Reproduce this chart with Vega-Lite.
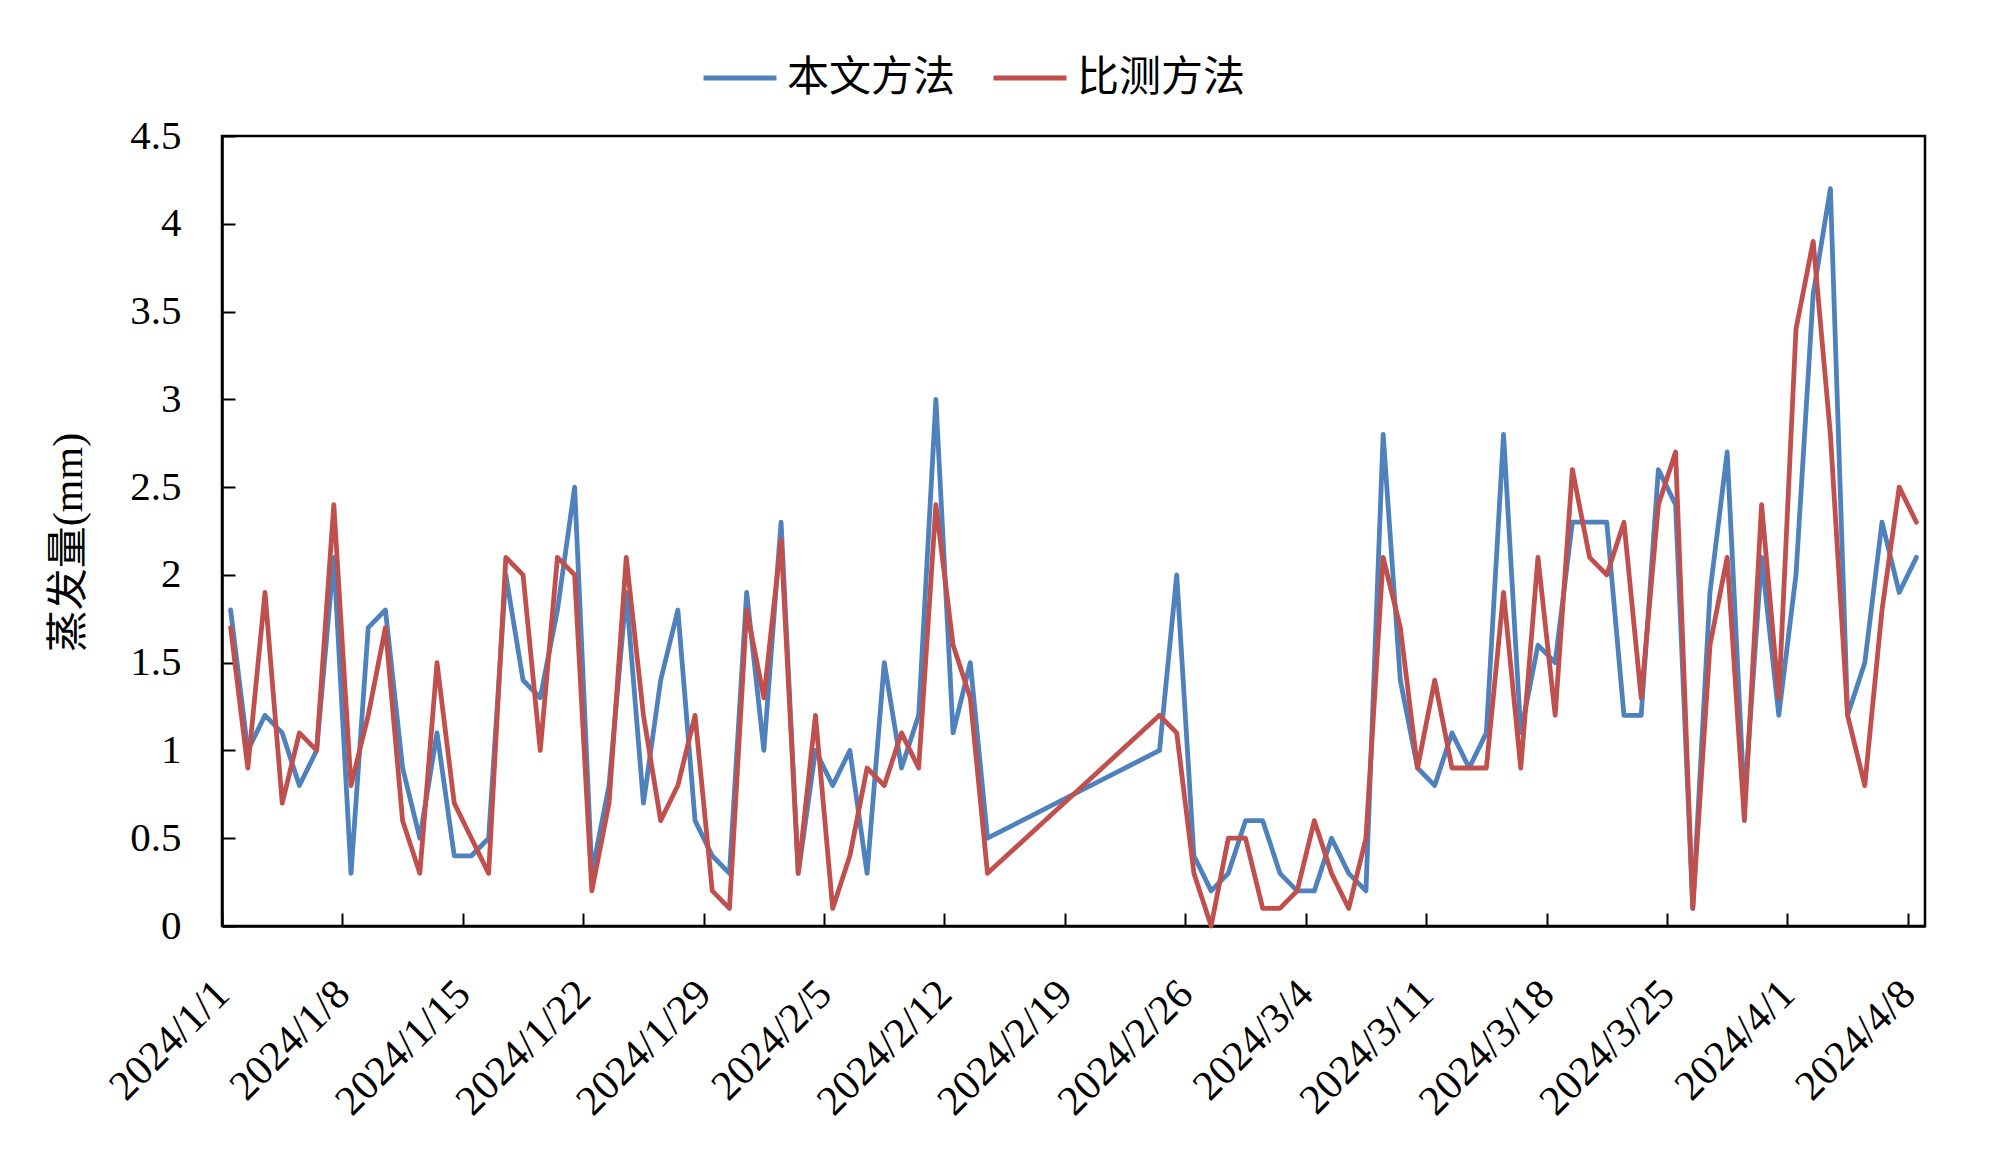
{
  "$schema": "https://vega.github.io/schema/vega-lite/v6.json",
  "width": 1703,
  "height": 790,
  "autosize": {"type": "none"},
  "padding": {"left": 222, "top": 136, "right": 75, "bottom": 243},
  "background": "white",
  "config": {
    "view": {"stroke": "black", "strokeWidth": 2.5},
    "font": "Liberation Serif, Noto Sans CJK SC"
  },
  "data": {
    "values": [
      {"date": "2024/1/1", "本文方法": 1.8, "比测方法": 1.7},
      {"date": "2024/1/2", "本文方法": 1.0, "比测方法": 0.9},
      {"date": "2024/1/3", "本文方法": 1.2, "比测方法": 1.9},
      {"date": "2024/1/4", "本文方法": 1.1, "比测方法": 0.7},
      {"date": "2024/1/5", "本文方法": 0.8, "比测方法": 1.1},
      {"date": "2024/1/6", "本文方法": 1.0, "比测方法": 1.0},
      {"date": "2024/1/7", "本文方法": 2.1, "比测方法": 2.4},
      {"date": "2024/1/8", "本文方法": 0.3, "比测方法": 0.8},
      {"date": "2024/1/9", "本文方法": 1.7, "比测方法": 1.2},
      {"date": "2024/1/10", "本文方法": 1.8, "比测方法": 1.7},
      {"date": "2024/1/11", "本文方法": 0.9, "比测方法": 0.6},
      {"date": "2024/1/12", "本文方法": 0.5, "比测方法": 0.3},
      {"date": "2024/1/13", "本文方法": 1.1, "比测方法": 1.5},
      {"date": "2024/1/14", "本文方法": 0.4, "比测方法": 0.7},
      {"date": "2024/1/15", "本文方法": 0.4, "比测方法": 0.5},
      {"date": "2024/1/16", "本文方法": 0.5, "比测方法": 0.3},
      {"date": "2024/1/17", "本文方法": 2.0, "比测方法": 2.1},
      {"date": "2024/1/18", "本文方法": 1.4, "比测方法": 2.0},
      {"date": "2024/1/19", "本文方法": 1.3, "比测方法": 1.0},
      {"date": "2024/1/20", "本文方法": 1.8, "比测方法": 2.1},
      {"date": "2024/1/21", "本文方法": 2.5, "比测方法": 2.0},
      {"date": "2024/1/22", "本文方法": 0.3, "比测方法": 0.2},
      {"date": "2024/1/23", "本文方法": 0.8, "比测方法": 0.7},
      {"date": "2024/1/24", "本文方法": 1.9, "比测方法": 2.1},
      {"date": "2024/1/25", "本文方法": 0.7, "比测方法": 1.2},
      {"date": "2024/1/26", "本文方法": 1.4, "比测方法": 0.6},
      {"date": "2024/1/27", "本文方法": 1.8, "比测方法": 0.8},
      {"date": "2024/1/28", "本文方法": 0.6, "比测方法": 1.2},
      {"date": "2024/1/29", "本文方法": 0.4, "比测方法": 0.2},
      {"date": "2024/1/30", "本文方法": 0.3, "比测方法": 0.1},
      {"date": "2024/1/31", "本文方法": 1.9, "比测方法": 1.8},
      {"date": "2024/2/1", "本文方法": 1.0, "比测方法": 1.3},
      {"date": "2024/2/2", "本文方法": 2.3, "比测方法": 2.2},
      {"date": "2024/2/3", "本文方法": 0.3, "比测方法": 0.3},
      {"date": "2024/2/4", "本文方法": 1.0, "比测方法": 1.2},
      {"date": "2024/2/5", "本文方法": 0.8, "比测方法": 0.1},
      {"date": "2024/2/6", "本文方法": 1.0, "比测方法": 0.4},
      {"date": "2024/2/7", "本文方法": 0.3, "比测方法": 0.9},
      {"date": "2024/2/8", "本文方法": 1.5, "比测方法": 0.8},
      {"date": "2024/2/9", "本文方法": 0.9, "比测方法": 1.1},
      {"date": "2024/2/10", "本文方法": 1.2, "比测方法": 0.9},
      {"date": "2024/2/11", "本文方法": 3.0, "比测方法": 2.4},
      {"date": "2024/2/12", "本文方法": 1.1, "比测方法": 1.6},
      {"date": "2024/2/13", "本文方法": 1.5, "比测方法": 1.3},
      {"date": "2024/2/14", "本文方法": 0.5, "比测方法": 0.3},
      {"date": "2024/2/24", "本文方法": 1.0, "比测方法": 1.2},
      {"date": "2024/2/25", "本文方法": 2.0, "比测方法": 1.1},
      {"date": "2024/2/26", "本文方法": 0.4, "比测方法": 0.3},
      {"date": "2024/2/27", "本文方法": 0.2, "比测方法": 0.0},
      {"date": "2024/2/28", "本文方法": 0.3, "比测方法": 0.5},
      {"date": "2024/2/29", "本文方法": 0.6, "比测方法": 0.5},
      {"date": "2024/3/1", "本文方法": 0.6, "比测方法": 0.1},
      {"date": "2024/3/2", "本文方法": 0.3, "比测方法": 0.1},
      {"date": "2024/3/3", "本文方法": 0.2, "比测方法": 0.2},
      {"date": "2024/3/4", "本文方法": 0.2, "比测方法": 0.6},
      {"date": "2024/3/5", "本文方法": 0.5, "比测方法": 0.3},
      {"date": "2024/3/6", "本文方法": 0.3, "比测方法": 0.1},
      {"date": "2024/3/7", "本文方法": 0.2, "比测方法": 0.5},
      {"date": "2024/3/8", "本文方法": 2.8, "比测方法": 2.1},
      {"date": "2024/3/9", "本文方法": 1.4, "比测方法": 1.7},
      {"date": "2024/3/10", "本文方法": 0.9, "比测方法": 0.9},
      {"date": "2024/3/11", "本文方法": 0.8, "比测方法": 1.4},
      {"date": "2024/3/12", "本文方法": 1.1, "比测方法": 0.9},
      {"date": "2024/3/13", "本文方法": 0.9, "比测方法": 0.9},
      {"date": "2024/3/14", "本文方法": 1.1, "比测方法": 0.9},
      {"date": "2024/3/15", "本文方法": 2.8, "比测方法": 1.9},
      {"date": "2024/3/16", "本文方法": 1.1, "比测方法": 0.9},
      {"date": "2024/3/17", "本文方法": 1.6, "比测方法": 2.1},
      {"date": "2024/3/18", "本文方法": 1.5, "比测方法": 1.2},
      {"date": "2024/3/19", "本文方法": 2.3, "比测方法": 2.6},
      {"date": "2024/3/20", "本文方法": 2.3, "比测方法": 2.1},
      {"date": "2024/3/21", "本文方法": 2.3, "比测方法": 2.0},
      {"date": "2024/3/22", "本文方法": 1.2, "比测方法": 2.3},
      {"date": "2024/3/23", "本文方法": 1.2, "比测方法": 1.3},
      {"date": "2024/3/24", "本文方法": 2.6, "比测方法": 2.4},
      {"date": "2024/3/25", "本文方法": 2.4, "比测方法": 2.7},
      {"date": "2024/3/26", "本文方法": 0.1, "比测方法": 0.1},
      {"date": "2024/3/27", "本文方法": 1.9, "比测方法": 1.6},
      {"date": "2024/3/28", "本文方法": 2.7, "比测方法": 2.1},
      {"date": "2024/3/29", "本文方法": 0.7, "比测方法": 0.6},
      {"date": "2024/3/30", "本文方法": 2.1, "比测方法": 2.4},
      {"date": "2024/3/31", "本文方法": 1.2, "比测方法": 1.3},
      {"date": "2024/4/1", "本文方法": 2.0, "比测方法": 3.4},
      {"date": "2024/4/2", "本文方法": 3.6, "比测方法": 3.9},
      {"date": "2024/4/3", "本文方法": 4.2, "比测方法": 2.8},
      {"date": "2024/4/4", "本文方法": 1.2, "比测方法": 1.2},
      {"date": "2024/4/5", "本文方法": 1.5, "比测方法": 0.8},
      {"date": "2024/4/6", "本文方法": 2.3, "比测方法": 1.8},
      {"date": "2024/4/7", "本文方法": 1.9, "比测方法": 2.5},
      {"date": "2024/4/8", "本文方法": 2.1, "比测方法": 2.3}
    ]
  },
  "transform": [{"fold": ["本文方法", "比测方法"], "as": ["method", "value"]}],
  "mark": {"type": "line", "strokeWidth": 4.8, "strokeJoin": "round", "strokeCap": "round"},
  "encoding": {
    "x": {
      "field": "date",
      "type": "temporal",
      "timeUnit": "yearmonthdate",
      "bandPosition": 0.5,
      "scale": {"domain": [{"year": 2024, "month": 1, "date": 1}, {"year": 2024, "month": 4, "date": 9}]},
      "axis": {
        "title": null,
        "values": [
          {"year": 2024, "month": 1, "date": 1},
          {"year": 2024, "month": 1, "date": 8},
          {"year": 2024, "month": 1, "date": 15},
          {"year": 2024, "month": 1, "date": 22},
          {"year": 2024, "month": 1, "date": 29},
          {"year": 2024, "month": 2, "date": 5},
          {"year": 2024, "month": 2, "date": 12},
          {"year": 2024, "month": 2, "date": 19},
          {"year": 2024, "month": 2, "date": 26},
          {"year": 2024, "month": 3, "date": 4},
          {"year": 2024, "month": 3, "date": 11},
          {"year": 2024, "month": 3, "date": 18},
          {"year": 2024, "month": 3, "date": 25},
          {"year": 2024, "month": 4, "date": 1},
          {"year": 2024, "month": 4, "date": 8}
        ],
        "format": "%Y/%-m/%-d",
        "formatType": "time",
        "labelAngle": -45,
        "labelAlign": "right",
        "labelBaseline": "middle",
        "labelFontSize": 42,
        "labelFont": "Liberation Serif",
        "labelColor": "black",
        "labelPadding": 74,
        "labelDx": 22,
        "labelOverlap": false,
        "labelBound": false,
        "labelFlush": false,
        "tickSize": -13,
        "tickWidth": 2,
        "tickColor": "black",
        "domainColor": "black",
        "domainWidth": 2.5,
        "grid": false
      }
    },
    "y": {
      "field": "value",
      "type": "quantitative",
      "scale": {"domain": [0, 4.5], "nice": false},
      "axis": {
        "values": [0, 0.5, 1, 1.5, 2, 2.5, 3, 3.5, 4, 4.5],
        "format": "~g",
        "labelFontSize": 41,
        "labelFont": "Liberation Serif",
        "labelColor": "black",
        "labelPadding": 54,
        "labelFlush": false,
        "labelOverlap": false,
        "tickSize": -13,
        "tickWidth": 2,
        "tickColor": "black",
        "domainColor": "black",
        "domainWidth": 2.5,
        "grid": false,
        "title": "蒸发量(mm)",
        "titleFont": "Liberation Serif, Noto Sans CJK SC",
        "titleFontSize": 42,
        "titleFontWeight": "normal",
        "titleColor": "black",
        "titleAngle": -90,
        "titleX": -154,
        "titleY": 406,
        "titleAlign": "center",
        "titleBaseline": "middle"
      }
    },
    "color": {
      "field": "method",
      "type": "nominal",
      "scale": {"domain": ["本文方法", "比测方法"], "range": ["#4F81BD", "#C0504D"]},
      "legend": {
        "title": null,
        "orient": "none",
        "legendX": 479,
        "legendY": -97,
        "direction": "horizontal",
        "symbolType": "stroke",
        "symbolSize": 5329,
        "symbolStrokeWidth": 5,
        "labelFontSize": 42,
        "labelFont": "Liberation Serif, Noto Sans CJK SC",
        "labelColor": "black",
        "labelOffset": 8,
        "columnPadding": 27,
        "labelLimit": 400
      }
    }
  }
}
